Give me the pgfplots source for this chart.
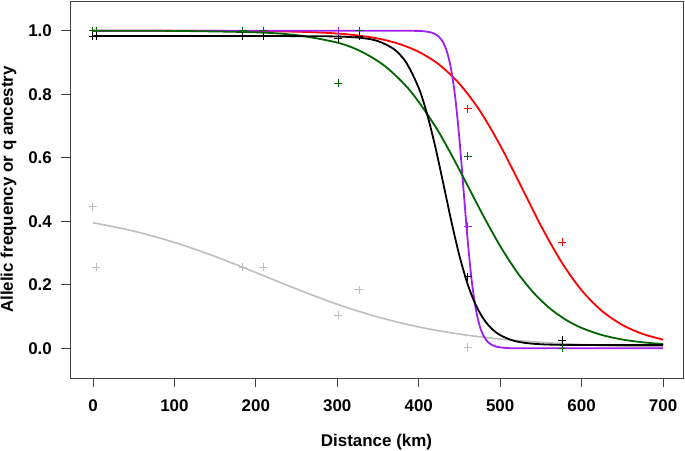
\documentclass[border=0pt]{standalone}
\usepackage{fontspec}
\setmainfont{Liberation Sans}
\usepackage{pgfplots}
\pgfplotsset{compat=1.18}
\definecolor{rgrey}{HTML}{BEBEBE}
\definecolor{rgreen}{HTML}{006400}
\definecolor{rpurple}{HTML}{A020F0}
\definecolor{rred}{HTML}{FF0000}

\begin{document}
\begin{tikzpicture}
\begin{axis}[
    scale only axis,
    width=613bp, height=377bp,
    xmin=-28.2, xmax=724.5,
    ymin=-0.0935, ymax=1.0935,
    axis line style={black!75, line width=0.9bp},
    tick style={black!75, line width=0.9bp},
    tick align=outside,
    major tick length=9bp,
    xtick pos=bottom, ytick pos=left,
    xtick={0,100,...,700},
    ytick={0,0.2,...,1.0},
    /pgf/number format/assume math mode=true,
    tick label style={font=\fontsize{17}{20}\selectfont\bfseries, inner sep=0pt},
    xticklabel style={anchor=base, yshift=-24bp},
    yticklabel style={xshift=-9bp, /pgf/number format/.cd, fixed, fixed zerofill, precision=1},
    xlabel={Distance (km)},
    ylabel={Allelic frequency or q ancestry},
    every axis x label/.style={at={(axis description cs:0.5,-0.183)}, anchor=base,
        font=\fontsize{17}{20}\selectfont\bfseries, inner sep=0pt},
    every axis y label/.style={at={(axis description cs:-0.093,0.5)}, rotate=90, anchor=base,
        font=\fontsize{17}{20}\selectfont\bfseries, inner sep=0pt},
    clip=true,
]
% grey cline and points
\addplot[rgrey, line width=1.6bp, smooth] coordinates {
(0,0.3955) (50,0.3690) (100,0.3334) (150,0.2891) (200,0.2386) (250,0.1867)
(300,0.1386) (350,0.0984) (400,0.0672) (450,0.0447) (500,0.0292) (550,0.0188)
(600,0.0120) (650,0.0076) (700,0.0048)};
\addplot[only marks, mark=+, mark size=4bp, rgrey, line width=1bp] coordinates {
(0,0.446) (4,0.255) (184,0.255) (209,0.255) (301,0.104) (327,0.185) (460,0.004)};

% red
\addplot[rred, line width=1.8bp, smooth] coordinates {
(0,1.0) (100,0.9999) (200,0.9989) (225,0.9981) (250,0.9968) (275,0.9947)
(300,0.9911) (325,0.9851) (350,0.9753) (375,0.9592) (400,0.9334)
(425,0.8933) (450,0.8328) (475,0.7482) (500,0.6390) (525,0.5135) (550,0.3861)
(575,0.2727) (600,0.1826) (625,0.1175) (650,0.0735) (675,0.0452) (700,0.0274)};
\addplot[only marks, mark=+, mark size=4bp, rred, line width=1bp] coordinates {
(0,1.0) (4,1.0) (184,1.0) (209,1.0) (301,1.0) (327,1.0) (460,0.755) (576,0.334)};

% purple
\addplot[rpurple, line width=1.8bp, smooth] coordinates {
(0,1.0) (300,1.0) (380,0.9999) (400,0.9992) (405,0.9985) (410,0.9971) (415,0.9945)
(420,0.9895) (425,0.9802) (430,0.9627) (435,0.9309) (440,0.8754) (445,0.7858)
(450,0.6570) (455,0.5) (460,0.3430) (465,0.2142) (470,0.1245) (475,0.0691)
(480,0.0373) (485,0.0198) (490,0.0105) (495,0.0055) (500,0.0029) (505,0.0015)
(510,0.0008) (530,0.0001) (700,0.0)};
\addplot[only marks, mark=+, mark size=4bp, rpurple, line width=1bp] coordinates {
(0,1.0) (4,1.0) (184,1.0) (209,1.0) (301,1.0) (327,1.0) (460,0.385) (576,0.0)};

% green
\addplot[rgreen, line width=1.8bp, smooth] coordinates {
(0,1.0) (100,0.9993) (200,0.9948) (250,0.9859) (300,0.9625) (330,0.9337)
(360,0.8855) (390,0.8094) (420,0.7000) (440,0.6102) (460,0.5124) (480,0.4139)
(500,0.3221) (520,0.2425) (540,0.1778) (560,0.1279) (580,0.0908) (600,0.0642)
(625,0.0418) (650,0.0276) (675,0.0189) (700,0.0134)};
\addplot[only marks, mark=+, mark size=4bp, rgreen, line width=1bp] coordinates {
(0,1.0) (4,1.0) (184,1.0) (209,1.0) (301,0.835) (327,1.0) (460,0.605) (576,0.0)};

% black
\addplot[black, line width=1.8bp, smooth] coordinates {
(0,0.983) (100,0.983) (200,0.983) (250,0.9829) (300,0.9817) (330,0.9771)
(350,0.9671) (370,0.9411) (385,0.8983) (400,0.8196) (410,0.7400) (420,0.6382)
(430,0.5208) (440,0.4005) (450,0.2912) (460,0.2025) (470,0.1366) (480,0.0909)
(490,0.0607) (500,0.0414) (515,0.0251) (530,0.0172) (550,0.0127) (575,0.0108)
(600,0.0102) (650,0.0100) (700,0.0100)};
\addplot[only marks, mark=+, mark size=4bp, black, line width=1bp] coordinates {
(0,0.983) (4,0.983) (184,0.983) (209,0.983) (301,0.975) (327,0.983) (460,0.225) (576,0.025)};
\end{axis}
\pgfresetboundingbox
\path (current axis.south west) ++(-70bp,-73bp) coordinate (bl);
\path (current axis.north east) ++(2bp,1bp) coordinate (tr);
\path (bl) rectangle (tr);
\end{tikzpicture}
\end{document}
